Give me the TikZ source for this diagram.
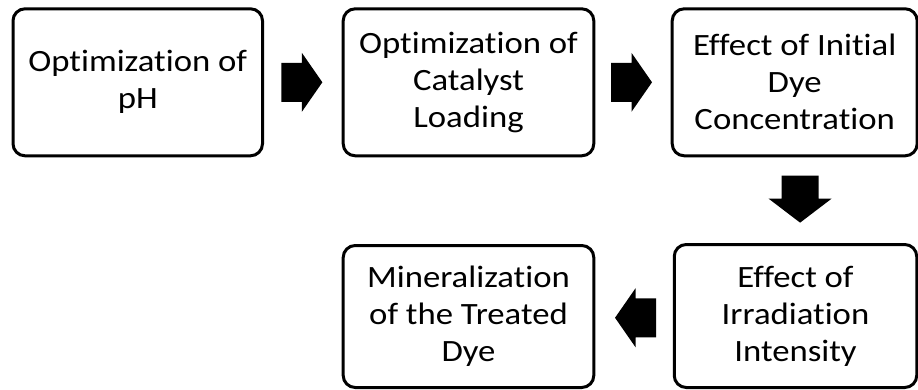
\documentclass[tikz,border=0pt]{standalone}
\usepackage{fontspec}
\setmainfont{Carlito}[FakeStretch=1.12, Ligatures=NoCommon]
\usetikzlibrary{calc}
\begin{document}
\begin{tikzpicture}[x=1pt,y=-1pt,
  stepbox/.style={draw=black, line width=3pt, rounded corners=12pt, fill=white,
    align=center, inner sep=0pt, font=\fontsize{31}{37}\selectfont},
  rarrow/.pic={\fill[black] (-20.5,-19.5) -- (0,-19.5) -- (0,-29.5) -- (20.5,0)
     -- (0,29.5) -- (0,19.5) -- (-20.5,19.5) -- cycle;},
  darrow/.pic={\fill[black] (-18.5,-23.5) -- (18.5,-23.5) -- (18.5,-0.5) -- (31.5,-0.5)
     -- (0,23.5) -- (-31.5,-0.5) -- (-18.5,-0.5) -- cycle;}]
\useasboundingbox (0,0) rectangle (918,390);
\node[stepbox, minimum width=249.5pt, minimum height=147pt] (b1) at (137.75,82.3) {Optimization of\\pH};
\node[stepbox, minimum width=250.6pt, minimum height=147pt] (b2) at (468.5,82.3) {Optimization of\\Catalyst\\Loading};
\node[stepbox, minimum width=245pt, minimum height=147pt] (b3) at (794.7,82.3) {Effect of Initial\\Dye\\Concentration};
\node[stepbox, minimum width=250.6pt, minimum height=142pt] (b4) at (468.5,316.5) {Mineralization\\of the Treated\\Dye};
\node[stepbox, minimum width=242.5pt, minimum height=143pt] (b5) at (795.5,316) {Effect of\\Irradiation\\Intensity};
\coordinate (a1) at ($(b1.east)!0.5!(b2.west)+(-1,0)$);
\coordinate (a2) at ($(b2.east)!0.5!(b3.west)+(-1.5,0)$);
\coordinate (a3) at ($(b3.south)!0.5!(b5.north)+(5,-1)$);
\coordinate (a4) at ($(b4.east)!0.5!(b5.west)+(1.5,1.5)$);
\pic at (a1) {rarrow};
\pic at (a2) {rarrow};
\pic at (a3) {darrow};
\pic[rotate=180] at (a4) {rarrow};
\end{tikzpicture}
\end{document}
